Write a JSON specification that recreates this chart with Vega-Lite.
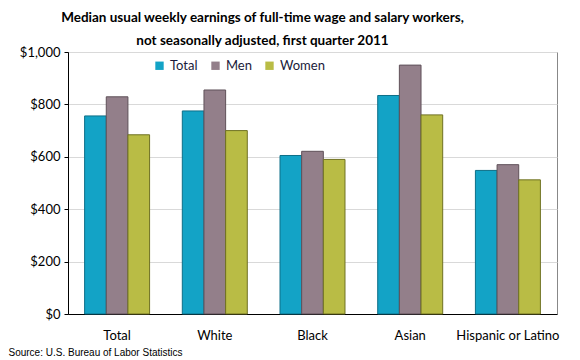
{
  "$schema": "https://vega.github.io/schema/vega-lite/v6.json",
  "width": 489,
  "height": 262,
  "autosize": {"type": "none"},
  "padding": {"left": 68, "top": 52, "right": 23, "bottom": 46},
  "background": "white",
  "title": {
    "text": ["Median usual weekly earnings of full-time wage and salary workers,", "not seasonally adjusted, first quarter 2011"],
    "font": "Lato",
    "fontSize": 13.5,
    "fontWeight": "bold",
    "color": "#000000",
    "anchor": "middle",
    "dx": -50,
    "lineHeight": 23,
    "offset": -1
  },
  "data": {
    "values": [
      {"group": "Total", "sex": "Total", "value": 756},
      {"group": "Total", "sex": "Men", "value": 829},
      {"group": "Total", "sex": "Women", "value": 684},
      {"group": "White", "sex": "Total", "value": 775},
      {"group": "White", "sex": "Men", "value": 855},
      {"group": "White", "sex": "Women", "value": 700},
      {"group": "Black", "sex": "Total", "value": 605},
      {"group": "Black", "sex": "Men", "value": 621},
      {"group": "Black", "sex": "Women", "value": 590},
      {"group": "Asian", "sex": "Total", "value": 834},
      {"group": "Asian", "sex": "Men", "value": 950},
      {"group": "Asian", "sex": "Women", "value": 760},
      {"group": "Hispanic or Latino", "sex": "Total", "value": 548},
      {"group": "Hispanic or Latino", "sex": "Men", "value": 570},
      {"group": "Hispanic or Latino", "sex": "Women", "value": 512}
    ]
  },
  "mark": {"type": "bar", "strokeWidth": 1},
  "encoding": {
    "x": {
      "field": "group",
      "type": "nominal",
      "sort": ["Total", "White", "Black", "Asian", "Hispanic or Latino"],
      "scale": {"paddingInner": 0.335, "paddingOuter": 0.17},
      "axis": {
        "labelAngle": 0,
        "labelFont": "Lato",
        "labelFontSize": 13,
        "labelColor": "#000000",
        "labelPadding": 15,
        "ticks": false,
        "domainColor": "#000000",
        "title": "Source: U.S. Bureau of Labor Statistics",
        "titleFont": "Liberation Sans",
        "titleFontSize": 10,
        "titleFontWeight": "normal",
        "titleColor": "#000000",
        "titleAnchor": "start",
        "titleAlign": "left",
        "titleBaseline": "middle",
        "titleX": -60,
        "titleY": 38
      }
    },
    "xOffset": {"field": "sex", "type": "nominal", "sort": ["Total", "Men", "Women"], "scale": {"paddingInner": 0}},
    "y": {
      "field": "value",
      "type": "quantitative",
      "scale": {"domain": [0, 1000]},
      "axis": {
        "values": [0, 200, 400, 600, 800, 1000],
        "format": "$,.0f",
        "title": null,
        "labelFont": "Lato",
        "labelFontSize": 13,
        "labelColor": "#000000",
        "labelPadding": 4,
        "tickSize": 4,
        "tickColor": "#000000",
        "domainColor": "#000000",
        "gridColor": "#d9d9d9"
      }
    },
    "color": {
      "field": "sex",
      "type": "nominal",
      "sort": ["Total", "Men", "Women"],
      "scale": {"domain": ["Total", "Men", "Women"], "range": ["#13a3c6", "#937f8a", "#b9bc45"]},
      "legend": {
        "orient": "none",
        "legendX": 85,
        "legendY": 7,
        "direction": "horizontal",
        "title": null,
        "symbolType": "square",
        "symbolSize": 70,
        "symbolStrokeWidth": 0,
        "labelFont": "Lato",
        "labelFontSize": 13,
        "labelColor": "#1a1a3a",
        "columnPadding": 11
      }
    },
    "stroke": {
      "field": "sex",
      "type": "nominal",
      "scale": {"domain": ["Total", "Men", "Women"], "range": ["#0d6f88", "#5f5159", "#6f7122"]},
      "legend": null
    }
  },
  "config": {
    "view": {"stroke": "#888888"}
  }
}
